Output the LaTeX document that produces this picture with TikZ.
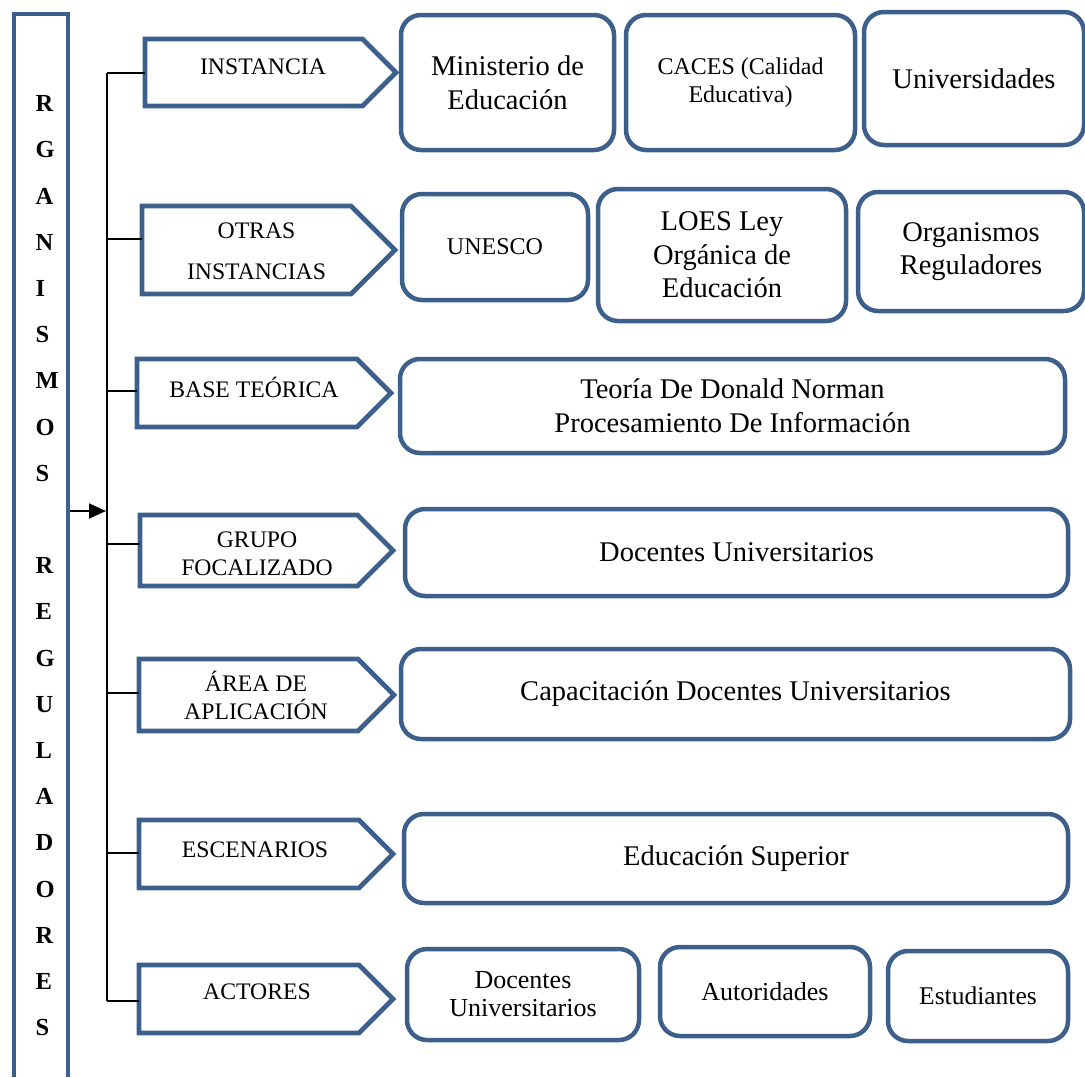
\documentclass[tikz,border=0pt]{standalone}
\usepackage{fontspec}
\setmainfont{Liberation Serif}
\usetikzlibrary{arrows.meta,calc}
\definecolor{bl}{RGB}{60,95,140}
\begin{document}
\begin{tikzpicture}[x=1pt,y=-1pt,
  rbox/.style={draw=bl, line width=4.5pt, rounded corners=20pt, anchor=north west,
    inner sep=0pt, outer sep=0pt, align=center, font=\fontsize{28.5}{33.5}\selectfont},
  pentbox/.style={anchor=north west, inner sep=0pt, outer sep=0pt},
  pentline/.style={draw=bl, line width=4.8pt, line join=miter},
  ptext/.style={font=\fontsize{23.7}{28}\selectfont, align=center, inner sep=0pt},
  barline/.style={draw=bl, line width=4.8pt, line join=miter},
  letter/.style={font=\fontsize{24.5}{24.5}\selectfont\bfseries, anchor=base west, inner sep=0pt},
  conn/.style={line width=1.8pt, black},
]
\useasboundingbox (0,0) rectangle (1085,1077);

% left vertical bar
\draw[barline] (14,1077) -- (14,14) -- (68,14) -- (68,1077);
\foreach \c [count=\i from 0] in {R,G,A,N,I,S,M,O,S}
  \node[letter] (la\i) at (35.5,{111.7+46.2*\i}) {\c};
\foreach \c [count=\i from 10] in {R,E,G,U,L,A,D,O,R,E,S}
  \node[letter] (lb\i) at (35.5,{111.7+46.2*\i}) {\c};

% pentagons (arrow shapes)
\node[pentbox, minimum width=251, minimum height=67] (p1) at (145,39) {};
\node[pentbox, minimum width=253, minimum height=88] (p2) at (142,206) {};
\node[pentbox, minimum width=254, minimum height=68] (p3) at (137,359) {};
\node[pentbox, minimum width=253, minimum height=71] (p4) at (140,515) {};
\node[pentbox, minimum width=255, minimum height=72] (p5) at (139,659) {};
\node[pentbox, minimum width=254, minimum height=68] (p6) at (139,820) {};
\node[pentbox, minimum width=254, minimum height=68] (p7) at (139,965) {};
\foreach \nd in {p1,p2,p3,p4,p5,p6,p7}
  \draw[pentline] let \p1=(\nd.north east), \p2=(\nd.south east) in
    (\nd.north west) -- ({\x1-0.5*(\y1-\y2)},\y1) -- (\nd.east)
    -- ({\x1-0.5*(\y1-\y2)},\y2) -- (\nd.south west) -- cycle;

% pentagon labels
\node[ptext] (l1) at (263,67) {INSTANCIA};
\node[ptext, font=\fontsize{23.7}{41}\selectfont] (l2) at (256.5,251) {OTRAS\\INSTANCIAS};
\node[ptext] (l3) at (254,387) {BASE TEÓRICA};
\node[ptext] (l4) at (257,553.5) {GRUPO\\FOCALIZADO};
\node[ptext] (l5) at (256,695.5) {ÁREA DE\\APLICACIÓN};
\node[ptext] (l6) at (255,850) {ESCENARIOS};
\node[ptext] (l7) at (257,991.7) {ACTORES};

% spine and ticks
\coordinate (t1) at (107,73);
\coordinate (t2) at (107,239);
\coordinate (t3) at (107,391);
\coordinate (t4) at (107,544);
\coordinate (t5) at (107,693);
\coordinate (t6) at (107,853);
\coordinate (t7) at (107,1001);
\draw[conn] (t1) -- (t7);
\foreach \i in {1,...,7}
  \draw[conn] (t\i) -- (t\i -| p\i.west);
\coordinate (aS) at (70,511);
\coordinate (aE) at (106,511);
\draw[conn,-{Triangle[length=17pt,width=15pt]}] (aS) -- (aE);

% rounded boxes
\node[rbox, minimum width=213, minimum height=135] (b1) at (401,15) {Ministerio de\\Educación};
\node[rbox, minimum width=229, minimum height=135, font=\fontsize{24}{28.5}\selectfont] (b2) at (626,15) {CACES (Calidad\\Educativa)};
\node[rbox, minimum width=220, minimum height=133] (b3) at (864,12) {Universidades};
\node[rbox, minimum width=186, minimum height=106, font=\fontsize{24}{28}\selectfont] (b4) at (402,194) {UNESCO};
\node[rbox, minimum width=248, minimum height=132] (b5) at (598,189) {LOES Ley\\Orgánica de\\Educación};
\node[rbox, minimum width=226, minimum height=119] (b6) at (858,192) {Organismos\\Reguladores};
\node[rbox, minimum width=665, minimum height=94, font=\fontsize{28.5}{34}\selectfont] (b7) at (400,359) {Teoría De Donald Norman\\Procesamiento De Información};
\node[rbox, minimum width=663, minimum height=87] (b8) at (405,509) {Docentes Universitarios};
\node[rbox, minimum width=669, minimum height=90] (b9) at (401,649) {Capacitación Docentes Universitarios};
\node[rbox, minimum width=664, minimum height=89] (b10) at (404,814) {Educación Superior};
\node[rbox, minimum width=232, minimum height=91, font=\fontsize{26}{28}\selectfont] (b11) at (407,949) {Docentes\\Universitarios};
\node[rbox, minimum width=210, minimum height=89, font=\fontsize{26}{28}\selectfont] (b12) at (660,947) {Autoridades};
\node[rbox, minimum width=180, minimum height=90, font=\fontsize{25.5}{28}\selectfont] (b13) at (888,951) {Estudiantes};
\end{tikzpicture}
\end{document}
